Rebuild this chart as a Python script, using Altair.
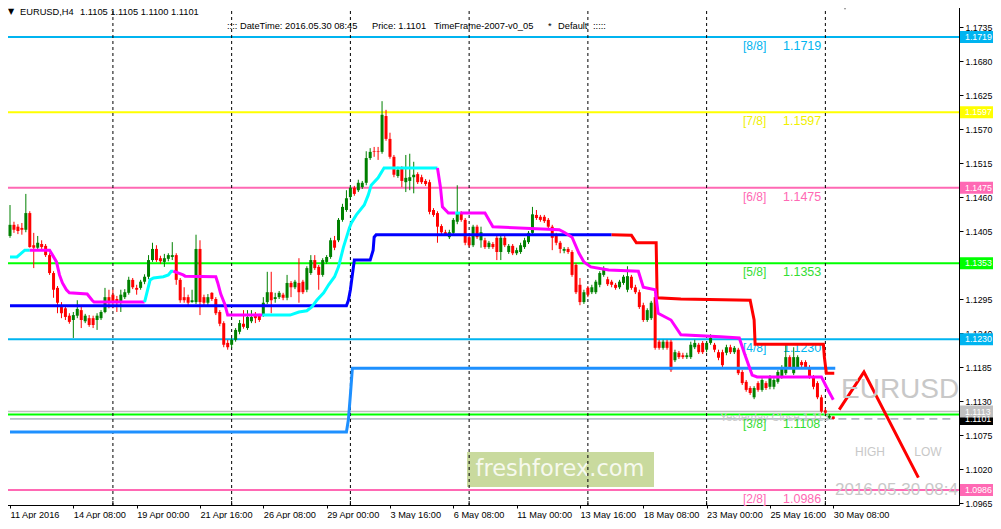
import altair as alt
import pandas as pd

FONT = "Liberation Sans"

# ---------------- candles (EURUSD H4, bar 0 = 11 Apr 2016 16:00) ----------------
opens = [
 1.1397,1.1415,1.1412,1.1410,1.1407,1.1434,1.1382,1.1378,1.1384,1.1381,
 1.1366,1.1337,1.1313,1.1282,1.1280,1.1268,1.1261,1.1268,1.1277,1.1259,
 1.1264,1.1264,1.1261,1.1264,1.1274,1.1298,1.1302,1.1295,1.1290,1.1298,
 1.1305,1.1326,1.1313,1.1313,1.1323,1.1331,1.1358,1.1376,1.1361,1.1355,
 1.1360,1.1363,1.1366,1.1326,1.1298,1.1298,1.1290,1.1290,1.1376,1.1298,
 1.1289,1.1305,1.1295,1.1274,1.1256,1.1224,1.1221,1.1229,1.1242,1.1255,
 1.1248,1.1259,1.1268,1.1268,1.1269,1.1290,1.1306,1.1295,1.1298,1.1302,
 1.1297,1.1321,1.1314,1.1321,1.1323,1.1310,1.1337,1.1358,1.1347,1.1334,
 1.1355,1.1363,1.1390,1.1390,1.1423,1.1439,1.1460,1.1475,1.1471,1.1476,
 1.1483,1.1523,1.1534,1.1534,1.1533,1.1591,1.1554,1.1525,1.1494,1.1507,
 1.1484,1.1486,1.1492,1.1497,1.1492,1.1486,1.1484,1.1439,1.1434,1.1413,
 1.1403,1.1395,1.1402,1.1420,1.1434,1.1423,1.1395,1.1382,1.1412,1.1390,
 1.1390,1.1379,1.1384,1.1394,1.1371,1.1394,1.1371,1.1381,1.1369,1.1371,
 1.1379,1.1387,1.1402,1.1431,1.1428,1.1428,1.1423,1.1412,1.1399,1.1386,
 1.1373,1.1376,1.1371,1.1350,1.1318,1.1290,1.1313,1.1306,1.1306,1.1318,
 1.1334,1.1327,1.1323,1.1318,1.1314,1.1321,1.1310,1.1331,1.1314,1.1306,
 1.1285,1.1261,1.1264,1.1298,1.1226,1.1216,1.1226,1.1226,1.1196,1.1208,
 1.1204,1.1201,1.1201,1.1217,1.1221,1.1224,1.1213,1.1224,1.1221,1.1209,
 1.1209,1.1208,1.1217,1.1209,1.1213,1.1177,1.1161,1.1151,1.1136,1.1159,
 1.1148,1.1159,1.1153,1.1153,1.1161,1.1169,1.1175,1.1201,1.1175,1.1185,
 1.1193,1.1193,1.1185,1.1169,1.1159,1.1136,1.1115,1.1103,1.1105]
highs = [
 1.1447,1.1420,1.1416,1.1418,1.1465,1.1437,1.1402,1.1397,1.1390,1.1384,
 1.1369,1.1340,1.1316,1.1290,1.1284,1.1272,1.1274,1.1293,1.1282,1.1271,
 1.1269,1.1268,1.1272,1.1277,1.1313,1.1310,1.1310,1.1300,1.1310,1.1311,
 1.1331,1.1329,1.1318,1.1326,1.1335,1.1366,1.1386,1.1382,1.1365,1.1368,
 1.1369,1.1387,1.1369,1.1329,1.1314,1.1302,1.1310,1.1399,1.1390,1.1302,
 1.1303,1.1306,1.1298,1.1277,1.1259,1.1229,1.1232,1.1248,1.1261,1.1277,
 1.1277,1.1277,1.1274,1.1271,1.1298,1.1339,1.1339,1.1305,1.1308,1.1305,
 1.1334,1.1324,1.1326,1.1361,1.1326,1.1348,1.1366,1.1366,1.1350,1.1361,
 1.1366,1.1394,1.1397,1.1426,1.1449,1.1471,1.1479,1.1478,1.1488,1.1486,
 1.1534,1.1539,1.1541,1.1541,1.1615,1.1601,1.1564,1.1528,1.1509,1.1510,
 1.1528,1.1530,1.1517,1.1500,1.1496,1.1489,1.1488,1.1442,1.1437,1.1416,
 1.1407,1.1407,1.1426,1.1479,1.1437,1.1426,1.1399,1.1415,1.1415,1.1412,
 1.1394,1.1389,1.1387,1.1397,1.1400,1.1397,1.1384,1.1384,1.1378,1.1386,
 1.1394,1.1405,1.1444,1.1439,1.1431,1.1431,1.1426,1.1415,1.1402,1.1389,
 1.1379,1.1379,1.1374,1.1353,1.1329,1.1310,1.1316,1.1318,1.1326,1.1340,
 1.1348,1.1331,1.1326,1.1321,1.1326,1.1334,1.1348,1.1334,1.1318,1.1310,
 1.1289,1.1280,1.1292,1.1302,1.1229,1.1229,1.1229,1.1229,1.1213,1.1211,
 1.1208,1.1208,1.1226,1.1229,1.1224,1.1227,1.1227,1.1238,1.1224,1.1213,
 1.1213,1.1221,1.1221,1.1219,1.1216,1.1180,1.1164,1.1154,1.1154,1.1162,
 1.1167,1.1162,1.1172,1.1167,1.1180,1.1188,1.1221,1.1204,1.1217,1.1204,
 1.1196,1.1196,1.1188,1.1172,1.1162,1.1140,1.1119,1.1109,1.1105]
lows = [
 1.1394,1.1402,1.1400,1.1399,1.1403,1.1378,1.1345,1.1374,1.1376,1.1363,
 1.1334,1.1297,1.1272,1.1264,1.1261,1.1255,1.1232,1.1264,1.1248,1.1256,
 1.1250,1.1248,1.1245,1.1261,1.1272,1.1280,1.1280,1.1274,1.1274,1.1295,
 1.1302,1.1311,1.1302,1.1310,1.1319,1.1327,1.1355,1.1355,1.1352,1.1347,
 1.1356,1.1358,1.1318,1.1289,1.1289,1.1285,1.1289,1.1287,1.1269,1.1285,
 1.1285,1.1292,1.1269,1.1251,1.1217,1.1213,1.1216,1.1226,1.1238,1.1247,
 1.1245,1.1256,1.1256,1.1258,1.1266,1.1287,1.1272,1.1289,1.1295,1.1293,
 1.1293,1.1298,1.1311,1.1289,1.1303,1.1306,1.1334,1.1342,1.1310,1.1331,
 1.1352,1.1360,1.1374,1.1387,1.1420,1.1436,1.1457,1.1462,1.1468,1.1473,
 1.1479,1.1520,1.1525,1.1520,1.1530,1.1551,1.1522,1.1492,1.1491,1.1476,
 1.1468,1.1471,1.1466,1.1481,1.1481,1.1478,1.1432,1.1428,1.1386,1.1400,
 1.1397,1.1392,1.1399,1.1416,1.1420,1.1382,1.1379,1.1379,1.1392,1.1378,
 1.1376,1.1376,1.1376,1.1358,1.1358,1.1379,1.1368,1.1366,1.1366,1.1368,
 1.1376,1.1384,1.1399,1.1423,1.1420,1.1418,1.1408,1.1374,1.1382,1.1369,
 1.1369,1.1368,1.1331,1.1303,1.1285,1.1287,1.1298,1.1303,1.1303,1.1314,
 1.1331,1.1316,1.1314,1.1310,1.1311,1.1318,1.1306,1.1310,1.1303,1.1279,
 1.1258,1.1258,1.1261,1.1213,1.1213,1.1213,1.1213,1.1177,1.1193,1.1198,
 1.1198,1.1198,1.1198,1.1214,1.1206,1.1206,1.1209,1.1221,1.1209,1.1196,
 1.1185,1.1204,1.1206,1.1206,1.1172,1.1156,1.1145,1.1140,1.1133,1.1145,
 1.1145,1.1148,1.1149,1.1149,1.1158,1.1166,1.1172,1.1182,1.1172,1.1182,
 1.1185,1.1182,1.1166,1.1149,1.1133,1.1111,1.1109,1.1101,1.1100]
closes = [
 1.1415,1.1407,1.1405,1.1407,1.1434,1.1379,1.1378,1.1386,1.1379,1.1366,
 1.1337,1.1310,1.1289,1.1272,1.1266,1.1258,1.1269,1.1279,1.1261,1.1268,
 1.1253,1.1253,1.1268,1.1274,1.1298,1.1290,1.1290,1.1290,1.1302,1.1306,
 1.1326,1.1314,1.1310,1.1323,1.1331,1.1358,1.1376,1.1358,1.1356,1.1361,
 1.1366,1.1366,1.1326,1.1293,1.1293,1.1289,1.1293,1.1376,1.1290,1.1289,
 1.1298,1.1295,1.1272,1.1255,1.1221,1.1217,1.1229,1.1245,1.1256,1.1250,
 1.1266,1.1266,1.1264,1.1261,1.1289,1.1306,1.1293,1.1298,1.1305,1.1297,
 1.1321,1.1314,1.1323,1.1306,1.1306,1.1345,1.1358,1.1345,1.1334,1.1358,
 1.1363,1.1390,1.1378,1.1423,1.1444,1.1458,1.1475,1.1465,1.1483,1.1483,
 1.1523,1.1533,1.1533,1.1533,1.1593,1.1554,1.1525,1.1496,1.1504,1.1486,
 1.1491,1.1492,1.1496,1.1484,1.1484,1.1481,1.1436,1.1431,1.1412,1.1403,
 1.1400,1.1403,1.1423,1.1434,1.1423,1.1386,1.1382,1.1412,1.1395,1.1403,
 1.1379,1.1386,1.1379,1.1371,1.1394,1.1382,1.1381,1.1369,1.1374,1.1382,
 1.1390,1.1402,1.1432,1.1426,1.1423,1.1421,1.1412,1.1394,1.1386,1.1376,
 1.1376,1.1371,1.1334,1.1306,1.1290,1.1306,1.1302,1.1314,1.1323,1.1337,
 1.1342,1.1319,1.1318,1.1313,1.1323,1.1331,1.1332,1.1313,1.1306,1.1282,
 1.1261,1.1277,1.1289,1.1216,1.1216,1.1226,1.1216,1.1180,1.1209,1.1201,
 1.1201,1.1204,1.1221,1.1224,1.1209,1.1209,1.1224,1.1232,1.1213,1.1200,
 1.1188,1.1217,1.1209,1.1216,1.1175,1.1159,1.1148,1.1143,1.1151,1.1148,
 1.1164,1.1151,1.1169,1.1164,1.1177,1.1185,1.1201,1.1185,1.1201,1.1201,
 1.1188,1.1185,1.1169,1.1153,1.1136,1.1113,1.1111,1.1106,1.1101]

# ---------------- axes ----------------
x_tick_bars = [0, 16, 32, 48, 64, 80, 96, 112, 128, 144, 160, 176, 192, 208]
x_tick_labels = ["11 Apr 2016", "14 Apr 08:00", "19 Apr 00:00", "21 Apr 16:00",
                 "26 Apr 08:00", "29 Apr 00:00", "3 May 16:00", "6 May 08:00",
                 "11 May 00:00", "13 May 16:00", "18 May 08:00", "23 May 00:00",
                 "25 May 16:00", "30 May 08:00"]
week_separators = [26, 56, 86, 116, 146, 176, 206]
y_ticks = [1.0965, 1.1020, 1.1075, 1.1130, 1.1185, 1.1240, 1.1295, 1.1350,
           1.1405, 1.1460, 1.1515, 1.1570, 1.1625, 1.1680, 1.1735]
x_domain = [0, 238.5]
y_domain = [1.096179, 1.177059]

# ---------------- Murrey levels ----------------
level_names = ["[8/8]", "[7/8]", "[6/8]", "[5/8]", "[4/8]", "[3/8]", "[2/8]"]
level_values = [1.1719, 1.1597, 1.1475, 1.1353, 1.1230, 1.1108, 1.0986]
level_colors = ["#00B4F0", "#FFFF00", "#FF69B4", "#00FF00", "#00B4F0", "#00FF00", "#FF69B4"]
level_text_colors = ["#00B4F0", "#F0F000", "#FF69B4", "#33DD33", "#00B4F0", "#33DD33", "#FF69B4"]

# price boxes on the right scale
box_values = [1.1719, 1.1597, 1.1475, 1.1353, 1.1230, 1.1101, 1.1113, 1.0986]
box_colors = ["#00B4F0", "#FFFF00", "#FF69B4", "#00FF00", "#00B4F0", "#000000", "#C0C0C0", "#FF69B4"]

yesterday_close = 1.1113
current_price = 1.1101

# ---------------- indicator lines ----------------
blue_i = [0, 85, 85.5, 86, 86.5, 87, 91, 91.75, 92, 92.5, 152]
blue_p = [1.1284, 1.1284, 1.1293, 1.1310, 1.1334, 1.1358, 1.1358, 1.1374, 1.1395, 1.1399, 1.1399]
red_i = [152, 157, 158.25, 163.25, 163.5, 169.5, 187, 188, 188.25, 205.5, 205.75, 206.25, 208.25]
red_p = [1.1399, 1.1398, 1.1386, 1.1386, 1.1297, 1.1295, 1.1293, 1.1261, 1.1222, 1.1222, 1.1201, 1.1175, 1.1175]
dodger_i = [0, 85, 85.5, 86, 86.5, 208.5]
dodger_p = [1.1080, 1.1080, 1.1100, 1.1140, 1.1183, 1.1183]

trend_colors = ["#00FFFF", "#FF00FF", "#00FFFF", "#FF00FF", "#00FFFF", "#FF00FF", "#00FFFF", "#FF00FF"]
trend_i = [
    [0, 1.75, 3.75, 5],
    [5, 10, 10.75, 11.75, 12.5, 13.25, 14.25, 15, 19.5, 20.75, 21.25, 34],
    [34, 35.4, 36.25, 38.75, 40, 40.75, 41.25],
    [41.25, 43.75, 44.25, 52, 52.5, 53.25, 54.25, 55, 63.75],
    [63.75, 70.75, 73, 75, 76.25, 77.5, 79.25, 80.5, 82, 83, 84.25, 85.75, 86.25,
     87.5, 89.5, 90.5, 91.25, 93, 94.5, 108],
    [108, 108.75, 109.25, 110.75, 112.5],
    [112.5, 113.75],
    [113.75, 120, 122, 138.75, 140, 142, 143.75, 145, 146.75, 151.25, 158.75, 160,
     163, 163.75, 167, 169.5, 179.5, 184.25, 185.5, 187.5, 188.75, 205, 206.25, 208],
]
trend_p = [
    [1.1363, 1.1363, 1.1374, 1.1374],
    [1.1374, 1.1374, 1.1366, 1.1355, 1.1334, 1.1321, 1.1310, 1.1305, 1.1303, 1.1293, 1.1290, 1.1290],
    [1.1290, 1.1326, 1.1329, 1.1331, 1.1334, 1.1340, 1.1340],
    [1.1340, 1.1334, 1.1332, 1.1331, 1.1321, 1.1303, 1.1287, 1.1269, 1.1269],
    [1.1269, 1.1269, 1.1274, 1.1276, 1.1282, 1.1293, 1.1305, 1.1318, 1.1331, 1.1347,
     1.1379, 1.1410, 1.1418, 1.1431, 1.1447, 1.1463, 1.1479, 1.1491, 1.1507, 1.1507],
    [1.1507, 1.1476, 1.1444, 1.1434, 1.1434],
    [1.1434, 1.1434],
    [1.1434, 1.1434, 1.1412, 1.1407, 1.1403, 1.1395, 1.1369, 1.1355, 1.1347, 1.1342,
     1.1340, 1.1314, 1.1310, 1.1272, 1.1261, 1.1237, 1.1234, 1.1232, 1.1208, 1.1172,
     1.1169, 1.1169, 1.1153, 1.1132],
]

zig_i = [209.5, 215.75, 229.5]
zig_p = [1.1116, 1.1177, 1.1006]

# ---------------- build frames ----------------
n = len(closes)
bars = pd.DataFrame({"i": list(range(n)), "o": opens, "h": highs, "l": lows, "c": closes})
bars["dir"] = ["up" if c > o else "down" for o, c in zip(opens, closes)]

levels = pd.DataFrame({"p": level_values, "name": level_names, "col": level_colors,
                       "tcol": level_text_colors,
                       "val": [f"{v:.4f}" for v in level_values]})
boxes = pd.DataFrame({"p": box_values, "col": box_colors, "t": [f"{v:.4f}" for v in box_values]})
seps = pd.DataFrame({"i": week_separators})

trend_rows = []
for k, (col, xs, ps) in enumerate(zip(trend_colors, trend_i, trend_p)):
    for a, b in zip(xs, ps):
        trend_rows.append({"i": a, "p": b, "seg": k, "col": col})
trend = pd.DataFrame(trend_rows)

one = pd.DataFrame({"z": [0]})

labels_js = "[" + ",".join(f"'{s}'" for s in x_tick_labels) + "]"
bars_js = "[" + ",".join(str(b) for b in x_tick_bars) + "]"
label_expr = f"{labels_js}[indexof({bars_js}, datum.value)]"

x_scale = alt.Scale(domain=x_domain, nice=False, zero=False)
y_scale = alt.Scale(domain=y_domain, nice=False, zero=False)
x_axis = alt.Axis(values=x_tick_bars, labelExpr=label_expr, grid=False, title=None,
                  tickSize=3, tickColor="black", domainColor="black",
                  labelAlign="left", labelBaseline="top", labelPadding=2,
                  labelFont=FONT, labelFontSize=9.2, labelColor="black",
                  labelOverlap=False, labelFlush=False, labelBound=False)
y_axis = alt.Axis(orient="right", values=y_ticks, format=".4f", grid=False, title=None,
                  tickSize=4, tickColor="black", domainColor="black",
                  labelFont=FONT, labelFontSize=8.8, labelColor="black",
                  labelPadding=2, labelOverlap=False, labelFlush=False)


def X(f):
    return alt.X(f, type="quantitative", scale=x_scale, axis=x_axis)


def Y(f):
    return alt.Y(f, type="quantitative", scale=y_scale, axis=y_axis)


# watermark
wm_rect = alt.Chart(one).mark_rect(color="#C9DA9E").encode(
    x=alt.value(462), x2=alt.value(649), y=alt.value(447), y2=alt.value(482))
wm_text = alt.Chart(one).mark_text(text="freshforex.com", font="DejaVu Sans", fontSize=22.5,
                                   color="#F6F9EE", align="center", baseline="middle").encode(
    x=alt.value(555), y=alt.value(464))

level_rules = alt.Chart(levels).mark_rule(strokeWidth=2).encode(
    y=Y("p"), color=alt.Color("col:N", scale=None))
yc_rule = alt.Chart(pd.DataFrame({"p": [yesterday_close]})).mark_rule(
    strokeWidth=1.5, color="#C0C0C0").encode(y=Y("p"))
cur_solid = alt.Chart(pd.DataFrame({"p": [current_price], "a": [0], "b": [206]})).mark_rule(
    strokeWidth=1, color="#8090A0").encode(x=X("a"), x2="b", y=Y("p"))
cur_dash = alt.Chart(pd.DataFrame({"p": [current_price], "a": [206], "b": [238.5]})).mark_rule(
    strokeWidth=1, color="#708090", strokeDash=[8, 5]).encode(x=X("a"), x2="b", y=Y("p"))

sep_rules = alt.Chart(seps).mark_rule(strokeWidth=1, color="black", strokeDash=[3, 3]).encode(x=X("i"))
sep_ticks = alt.Chart(seps).mark_rule(strokeWidth=1, color="black").encode(
    x=X("i"), y=alt.value(496), y2=alt.value(500))

yc_text = alt.Chart(one).mark_text(text="Yesterday Close 1.113", font=FONT, fontSize=11,
                                   color="#C8C8C8", align="left", baseline="middle").encode(
    x=alt.value(715), y=alt.value(413))

lvl_name = alt.Chart(levels).mark_text(font=FONT, fontSize=12, align="left", baseline="middle", dy=9).encode(
    x=alt.value(738), y=Y("p"), text="name:N", color=alt.Color("tcol:N", scale=None))
lvl_val = alt.Chart(levels).mark_text(font=FONT, fontSize=12.5, align="left", baseline="middle", dy=9).encode(
    x=alt.value(778), y=Y("p"), text="val:N", color=alt.Color("tcol:N", scale=None))

candle_color = alt.Color("dir:N", scale=alt.Scale(domain=["up", "down"], range=["#008000", "#FF0000"]),
                         legend=None)
wicks = alt.Chart(bars).mark_rule(strokeWidth=1, clip=True).encode(
    x=X("i"), y=Y("l"), y2="h", color=candle_color)
bodies = alt.Chart(bars).mark_bar(size=3, clip=True).encode(
    x=X("i"), y=Y("o"), y2="c", color=candle_color)

dodger = alt.Chart(pd.DataFrame({"i": dodger_i, "p": dodger_p})).mark_line(
    strokeWidth=3, color="#1E90FF", clip=True).encode(x=X("i"), y=Y("p"))
blue = alt.Chart(pd.DataFrame({"i": blue_i, "p": blue_p})).mark_line(
    strokeWidth=3, color="#0000FF", clip=True).encode(x=X("i"), y=Y("p"))
red = alt.Chart(pd.DataFrame({"i": red_i, "p": red_p})).mark_line(
    strokeWidth=3, color="#FF0000", clip=True).encode(x=X("i"), y=Y("p"))
trend_line = alt.Chart(trend).mark_line(strokeWidth=3, clip=True).encode(
    x=X("i"), y=Y("p"), detail="seg:N", color=alt.Color("col:N", scale=None))
zig = alt.Chart(pd.DataFrame({"i": zig_i, "p": zig_p})).mark_line(
    strokeWidth=3, color="#FF0000").encode(x=X("i"), y=Y("p"))

big_sym = alt.Chart(one).mark_text(text="EURUSD", font=FONT, fontSize=28, color="#C8C8C8",
                                   align="left", baseline="middle").encode(x=alt.value(836), y=alt.value(385))
high_t = alt.Chart(one).mark_text(text="HIGH", font=FONT, fontSize=12, color="#C8C8C8",
                                  align="center", baseline="middle").encode(x=alt.value(865), y=alt.value(447))
low_t = alt.Chart(one).mark_text(text="LOW", font=FONT, fontSize=12, color="#C8C8C8",
                                 align="center", baseline="middle").encode(x=alt.value(923), y=alt.value(447))
date_t = alt.Chart(one).mark_text(text="2016.05.30 08:45", font=FONT, fontSize=17, color="#C8C8C8",
                                  align="left", baseline="middle", clip=True).encode(
    x=alt.value(830), y=alt.value(485))

box_rules = alt.Chart(boxes).mark_rule(strokeWidth=12, strokeCap="butt").encode(
    x=alt.value(955), x2=alt.value(993), y=Y("p"), color=alt.Color("col:N", scale=None))
box_text = alt.Chart(boxes).mark_text(font=FONT, fontSize=8.8, color="white", align="left",
                                      baseline="middle").encode(x=alt.value(960), y=Y("p"), text="t:N")


def hdr(txt, x, y):
    return alt.Chart(one).mark_text(text=txt, font=FONT, fontSize=9.3, color="black",
                                    align="left", baseline="middle").encode(x=alt.value(x), y=alt.value(y))


headers = [
    alt.Chart(one).mark_text(text="▼", font="DejaVu Sans", fontSize=8, color="black",
                             align="center", baseline="middle").encode(x=alt.value(6), y=alt.value(7)),
    hdr("EURUSD,H4", 15, 7),
    hdr("1.1105 1.1105 1.1100 1.1101", 75, 7),
    hdr(":::: DateTime: 2016.05.30 08:45", 222, 21),
    hdr("Price: 1.1101", 367, 21),
    hdr("TimeFrame-2007-v0_05", 429, 21),
    hdr("*", 543, 21),
    hdr("Default", 553, 21),
    hdr(":::::", 588, 21),
    alt.Chart(one).mark_point(shape="triangle-down", filled=True, size=45, color="#909090",
                              opacity=1).encode(x=alt.value(840), y=alt.value(2)),
]

chart = alt.layer(
    wm_rect, wm_text, level_rules, yc_rule, cur_solid, cur_dash, sep_rules, sep_ticks,
    yc_text, lvl_name, lvl_val, wicks, bodies, dodger, blue, red, trend_line, zig,
    big_sym, high_t, low_t, date_t, box_rules, box_text, *headers
).properties(
    width=954, height=500,
    autosize=alt.AutoSizeParams(type="none"),
    padding={"left": -3, "top": -3, "right": 34, "bottom": 14},
).configure_view(stroke="black", strokeWidth=1).configure(background="white")

chart.save("out.html", embed_options={"renderer": "svg", "actions": False})
